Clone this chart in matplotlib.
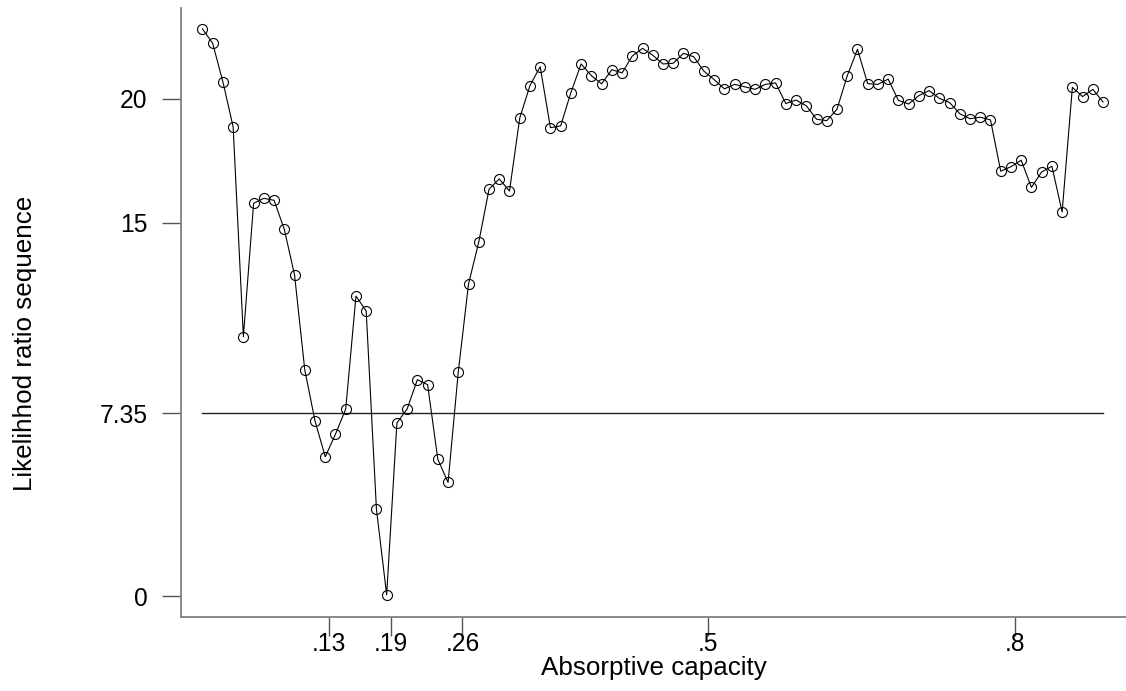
import matplotlib
matplotlib.use("Agg")
import matplotlib.pyplot as plt

plt.rcParams['font.family'] = ['Liberation Sans', 'DejaVu Sans']

# Absorptive capacity threshold values (x) and likelihood-ratio sequence (y)
x_vals = [0.006, 0.016, 0.026, 0.036, 0.046, 0.056, 0.066, 0.076, 0.086, 0.096,
          0.106, 0.116, 0.126, 0.136, 0.146, 0.156, 0.166, 0.176, 0.186, 0.196,
          0.206, 0.216, 0.226, 0.236, 0.246, 0.256, 0.266, 0.276, 0.286, 0.296,
          0.306, 0.316, 0.326, 0.336, 0.346, 0.356, 0.366, 0.376, 0.386, 0.396,
          0.406, 0.416, 0.426, 0.436, 0.446, 0.456, 0.466, 0.476, 0.486, 0.496,
          0.506, 0.516, 0.526, 0.536, 0.546, 0.556, 0.566, 0.576, 0.586, 0.596,
          0.606, 0.616, 0.626, 0.636, 0.646, 0.656, 0.666, 0.676, 0.686, 0.696,
          0.706, 0.716, 0.726, 0.736, 0.746, 0.756, 0.766, 0.776, 0.786, 0.796,
          0.806, 0.816, 0.826, 0.836, 0.846, 0.856, 0.866, 0.876, 0.886]
lr_vals = [22.80, 22.22, 20.67, 18.86, 10.43, 15.79, 15.99, 15.91, 14.74, 12.91,
           9.09, 7.04, 5.60, 6.51, 7.52, 12.06, 11.46, 3.50, 0.05, 6.96,
           7.52, 8.70, 8.50, 5.50, 4.57, 9.02, 12.55, 14.23, 16.35, 16.77,
           16.28, 19.21, 20.52, 21.28, 18.83, 18.90, 20.24, 21.39, 20.92, 20.59,
           21.16, 21.03, 21.71, 22.02, 21.74, 21.39, 21.42, 21.82, 21.68, 21.10,
           20.76, 20.39, 20.57, 20.47, 20.37, 20.57, 20.63, 19.80, 19.94, 19.71,
           19.17, 19.11, 19.57, 20.91, 21.98, 20.60, 20.57, 20.78, 19.93, 19.78,
           20.12, 20.32, 20.01, 19.84, 19.39, 19.19, 19.25, 19.14, 17.08, 17.26,
           17.52, 16.43, 17.05, 17.28, 15.44, 20.45, 20.08, 20.37, 19.86]
critical_value = 7.35

x_ticks = [0.13, 0.19, 0.26, 0.5, 0.8]
x_tick_labels = ['.13', '.19', '.26', '.5', '.8']
y_ticks = [0, 7.35, 15, 20]
y_tick_labels = ['0', '7.35', '15', '20']

W, H = 1126, 691
fig = plt.figure(figsize=(W / 100, H / 100), dpi=100)
ax = fig.add_axes([181 / W, 1 - 617 / H, (1126 - 181) / W, (617 - 8) / H])

ax.plot(x_vals, lr_vals, color='black', lw=0.8, marker='o', ms=7.2,
        mfc='none', mec='black', mew=0.8, zorder=3)
ax.plot([x_vals[0], x_vals[-1]], [critical_value, critical_value],
        color='#222222', lw=1.0, zorder=2)

ax.set_xlim(-0.01495, 0.9084)
ax.set_ylim(-0.84, 23.64)

ax.set_xticks(x_ticks)
ax.set_xticklabels(x_tick_labels)
ax.set_yticks(y_ticks)
ax.set_yticklabels(y_tick_labels)

for s in ['top', 'right']:
    ax.spines[s].set_visible(False)
for s in ['left', 'bottom']:
    ax.spines[s].set_color('#7f7f7f')
    ax.spines[s].set_linewidth(1.3)

ax.tick_params(axis='both', direction='out', length=14, width=1.0,
               color='#555555', labelsize=17.7, labelcolor='black')
ax.tick_params(axis='x', pad=-3)
ax.tick_params(axis='y', pad=10)

fig.text(653.5 / W, 1 - 668 / H, 'Absorptive capacity', ha='center', va='center',
         fontsize=18.7)
fig.text(25 / W, 1 - 343 / H, 'Likelihhod ratio sequence', ha='center', va='center',
         rotation=90, fontsize=18.7)

fig.savefig('out.png', dpi=100)
